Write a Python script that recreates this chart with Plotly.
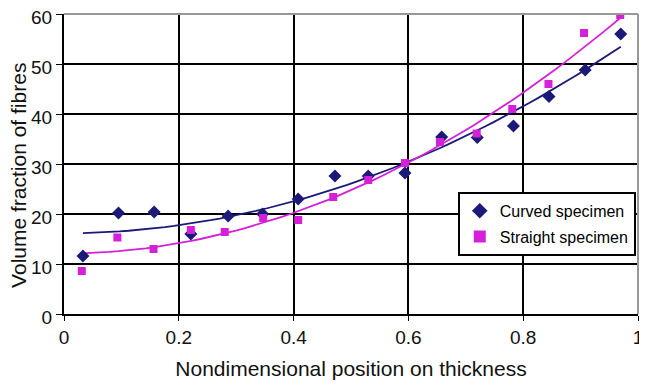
import numpy as np
import plotly.graph_objects as go

curved_x = [0.033, 0.095, 0.157, 0.221, 0.286, 0.346, 0.408, 0.472, 0.530, 0.594, 0.658, 0.720, 0.783, 0.845, 0.908, 0.970]
curved_y = [11.6, 20.2, 20.4, 16.0, 19.6, 20.0, 23.0, 27.6, 27.6, 28.2, 35.4, 35.3, 37.6, 43.5, 48.8, 56.0]

straight_x = [0.031, 0.093, 0.156, 0.221, 0.280, 0.347, 0.408, 0.469, 0.530, 0.594, 0.655, 0.719, 0.781, 0.844, 0.906, 0.969]
straight_y = [8.6, 15.3, 13.0, 16.8, 16.4, 19.2, 18.8, 23.4, 26.8, 30.2, 34.4, 36.1, 41.0, 46.0, 56.2, 59.8]

x_ticks = [0, 0.2, 0.4, 0.6, 0.8, 1]
x_tick_labels = ["0", "0.2", "0.4", "0.6", "0.8", "1"]
y_ticks = [0, 10, 20, 30, 40, 50, 60]

NAVY = "#1C1A78"
MAG = "#D420D8"

def trend(xs, ys, deg=2):
    c = np.polyfit(xs, ys, deg)
    xx = np.linspace(min(xs), max(xs), 60)
    return xx, np.polyval(c, xx)

fig = go.Figure()
tx, ty = trend(curved_x, curved_y)
fig.add_trace(go.Scatter(x=tx, y=ty, mode="lines", line=dict(color=NAVY, width=1.8), showlegend=False, hoverinfo="skip"))
tx2, ty2 = trend(straight_x, straight_y)
fig.add_trace(go.Scatter(x=tx2, y=ty2, mode="lines", line=dict(color=MAG, width=1.8), showlegend=False, hoverinfo="skip"))
fig.add_trace(go.Scatter(x=curved_x, y=curved_y, mode="markers", name="Curved specimen", legendgroup="a",
                         marker=dict(symbol="diamond", size=10, color=NAVY)))
fig.add_trace(go.Scatter(x=straight_x, y=straight_y, mode="markers", name="Straight specimen", legendgroup="b",
                         marker=dict(symbol="square", size=8, color=MAG)))

font = "Liberation Sans, Arial, sans-serif"
fig.update_layout(
    width=647, height=386,
    margin=dict(l=56, r=17, t=6, b=80),
    paper_bgcolor="white", plot_bgcolor="white",
    font=dict(family=font, size=19, color="#111"),
    legend=dict(x=0.686, y=0.407, xanchor="left", yanchor="top",
                bgcolor="white", bordercolor="black", borderwidth=2,
                font=dict(size=16, color="black"), tracegroupgap=2, itemsizing="constant"),
    xaxis=dict(range=[0, 1], tickvals=x_ticks, ticktext=x_tick_labels, automargin=False,
               ticklabeloverflow="allow",
               showgrid=True, gridcolor="black", gridwidth=2,
               showline=True, linecolor="black", linewidth=2, mirror=False,
               ticks="outside", ticklen=5, tickcolor="black", zeroline=False,
               title=dict(text="Nondimensional position on thickness", font=dict(size=21)),
               tickfont=dict(size=19)),
    yaxis=dict(range=[0, 60], tickvals=y_ticks, automargin=False,
               ticklabeloverflow="allow", ticklabelshift=3,
               showgrid=True, gridcolor="black", gridwidth=2,
               showline=True, linecolor="black", linewidth=2,
               ticks="outside", ticklen=6, tickcolor="black", zeroline=False,
               tickfont=dict(size=19)),
    annotations=[dict(text="Volume fraction of fibres", xref="paper", yref="paper",
                      x=-0.0805, y=0.463, xanchor="center", yanchor="middle",
                      textangle=-90, showarrow=False, font=dict(size=21, color="#111"))],
    shapes=[dict(type="line", xref="paper", yref="paper", x0=1, x1=1, y0=0, y1=1,
                 line=dict(color="#999", width=2)),
            dict(type="line", xref="paper", yref="paper", x0=0, x1=1, y0=1, y1=1,
                 line=dict(color="#999", width=2))],
)
fig.write_html("out.html")
